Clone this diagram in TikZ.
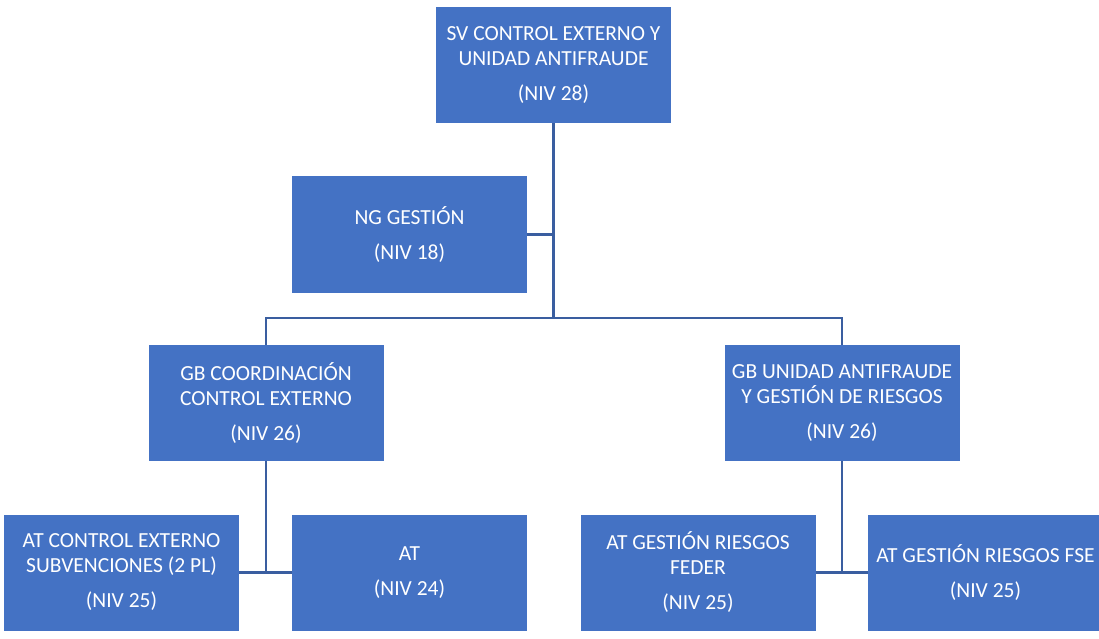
\documentclass[tikz,border=0pt]{standalone}
\usepackage{fontspec}
\setmainfont{Carlito}
\definecolor{boxblue}{HTML}{4472C4}
\definecolor{lineblue}{HTML}{3A5EA0}
\begin{document}
\begin{tikzpicture}[x=1pt,y=-1pt,
  orgbox/.style={fill=boxblue, draw=none, text=white, inner sep=0pt,
    minimum width=235pt, minimum height=116pt, align=center,
    font=\fontsize{21.5}{25}\selectfont},
  link/.style={draw=lineblue, line width=2.2pt}]
\useasboundingbox (0,0) rectangle (1099,639);
\node[orgbox] (top) at (553.5,65) {SV CONTROL EXTERNO Y\\UNIDAD ANTIFRAUDE\\[10pt](NIV 28)};
\node[orgbox] (ng) at (409.5,234.5) {NG GESTIÓN\\[10pt](NIV 18)};
\node[orgbox] (gbl) at (266,403) {GB COORDINACIÓN\\CONTROL EXTERNO\\[10pt](NIV 26)};
\node[orgbox] (gbr) at (842,403) {GB UNIDAD ANTIFRAUDE\\Y GESTIÓN DE RIESGOS\\[10pt](NIV 26)};
\node[orgbox] (atce) at (121.5,572.5) {AT CONTROL EXTERNO\\SUBVENCIONES (2 PL)\\[10pt](NIV 25)};
\node[orgbox] (at) at (409.5,572.5) {AT\\[10pt](NIV 24)};
\node[orgbox] (feder) at (698,572.5) {AT GESTIÓN RIESGOS\\FEDER\\[10pt](NIV 25)};
\node[orgbox] (fse) at (985.5,572.5) {AT GESTIÓN RIESGOS FSE\\[10pt](NIV 25)};
\coordinate (hb) at (553.5,318);
\draw[link] (top.south) -- (hb);
\draw[link] (ng.east) -- (ng.east -| top.south);
\draw[link] (gbl.north) |- (hb) -| (gbr.north);
\draw[link] (gbl.south) -- (gbl.south |- atce.east);
\draw[link] (atce.east) -- (at.west);
\draw[link] (gbr.south) -- (gbr.south |- feder.east);
\draw[link] (feder.east) -- (fse.west);
\end{tikzpicture}
\end{document}
